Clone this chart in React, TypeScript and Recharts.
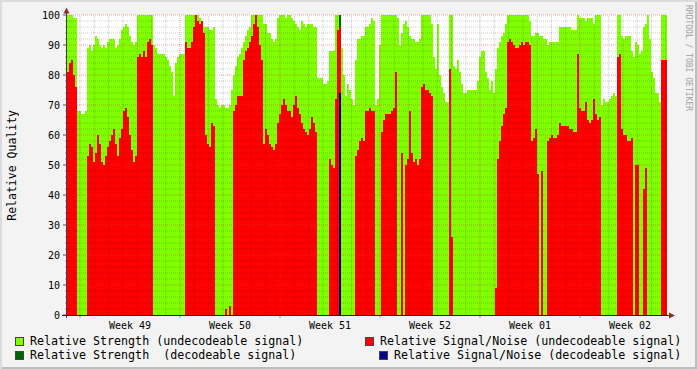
import { ComposedChart, Area, XAxis, YAxis, ReferenceLine, CartesianGrid } from 'recharts'

/* ── Data (one value per 2px RRD column, 6 weeks) ───────────────────── */

const SPAN_DAYS = 42
const FIRST_WEEK_START = 0.91 // days from left edge to the first week boundary
const WEEK_LABELS = ['Week 49', 'Week 50', 'Week 51', 'Week 52', 'Week 01', 'Week 02']

// Relative Strength (undecodeable signal)
const STRENGTH = [
  100, 100, 100, 99, 99, 68, 68, 67, 67, 68, 89, 90, 88, 90, 93, 92, 90, 89, 90, 89,
  91, 92, 92, 92, 89, 90, 92, 95, 96, 97, 96, 93, 91, 90, 91, 100, 100, 100, 100, 100,
  100, 100, 100, 90, 89, 87, 87, 87, 87, 86, 85, 83, 81, 73, 84, 86, 87, 87, 87, 100,
  100, 100, 100, 100, 100, 100, 99, 98, 96, 96, 96, 95, 95, 96, 72, 70, 69, 70, 70, 69,
  69, 70, 75, 80, 83, 86, 87, 89, 91, 93, 95, 96, 100, 100, 100, 100, 100, 100, 97, 97,
  94, 94, 92, 91, 92, 99, 100, 100, 100, 99, 100, 100, 99, 98, 97, 96, 95, 98, 97, 96,
  97, 97, 97, 96, 96, 79, 79, 79, 77, 77, 78, 88, 88, 88, 100, 100, 100, 89, 80, 73,
  77, 75, 72, 70, 85, 92, 92, 93, 93, 96, 96, 97, 99, 98, 70, 72, 90, 100, 100, 100,
  100, 100, 100, 100, 100, 99, 90, 94, 97, 98, 96, 93, 92, 92, 91, 91, 92, 100, 100, 100,
  100, 100, 97, 86, 82, 97, 80, 76, 74, 71, 71, 100, 100, 83, 82, 85, 81, 77, 74, 74,
  75, 75, 75, 75, 75, 78, 86, 88, 88, 81, 79, 75, 78, 74, 82, 89, 91, 93, 94, 97,
  100, 100, 100, 100, 100, 100, 100, 100, 100, 100, 100, 98, 93, 93, 94, 94, 93, 93, 92, 92,
  90, 91, 91, 91, 91, 91, 96, 96, 96, 96, 96, 96, 95, 95, 95, 100, 99, 99, 99, 98,
  99, 99, 99, 97, 100, 100, 100, 70, 72, 71, 71, 72, 73, 74, 73, 100, 100, 93, 92, 93,
  93, 93, 88, 86, 91, 90, 87, 88, 96, 97, 100, 92, 81, 79, 74, 74, 71, 100, 100, 100,
]

// Relative Signal/Noise (undecodeable signal)
const SNR = [
  81, 84, 85, 80, 76, 0, 0, 0, 0, 0, 53, 57, 56, 51, 54, 60, 57, 51, 50, 53,
  56, 58, 60, 62, 57, 53, 59, 62, 68, 69, 66, 60, 55, 51, 53, 86, 87, 86, 88, 86,
  91, 92, 90, 0, 0, 0, 0, 0, 0, 0, 0, 0, 0, 0, 0, 0, 0, 0, 0, 91,
  89, 89, 91, 96, 100, 98, 97, 98, 94, 60, 57, 56, 64, 63, 0, 0, 0, 0, 0, 2,
  0, 3, 0, 68, 70, 73, 73, 73, 85, 88, 89, 91, 93, 97, 100, 96, 90, 85, 57, 62,
  60, 57, 56, 55, 57, 64, 67, 70, 72, 70, 68, 68, 66, 70, 73, 69, 67, 64, 62, 61,
  60, 62, 66, 64, 61, 0, 0, 0, 0, 0, 0, 52, 50, 49, 72, 95, 96, 0, 0, 0,
  0, 0, 0, 0, 53, 55, 58, 59, 58, 68, 68, 69, 68, 68, 0, 0, 0, 61, 65, 67,
  67, 67, 68, 69, 81, 0, 0, 54, 0, 50, 52, 68, 54, 51, 52, 50, 52, 76, 77, 75,
  75, 74, 73, 0, 0, 0, 0, 0, 0, 0, 0, 82, 26, 0, 0, 0, 0, 0, 0, 0,
  0, 0, 0, 0, 0, 0, 0, 0, 0, 0, 0, 0, 0, 0, 9, 52, 58, 63, 67, 69,
  91, 92, 91, 90, 89, 89, 90, 91, 90, 91, 91, 90, 58, 59, 62, 47, 0, 48, 0, 0,
  58, 59, 60, 59, 59, 60, 64, 63, 63, 63, 63, 62, 62, 61, 61, 87, 69, 68, 68, 71,
  65, 64, 65, 72, 67, 65, 66, 0, 0, 0, 0, 0, 0, 0, 0, 86, 87, 62, 60, 60,
  58, 58, 59, 0, 50, 50, 0, 0, 42, 49, 0, 0, 0, 0, 0, 0, 0, 85, 85, 85,
]

// decodeable signal only shows up in one column
const DECODED_COLUMNS = [136]
const DECODED_STRENGTH = [100]
const DECODED_SNR = [74]

const SERIES_NAMES = [
  'Relative Strength (undecodeable signal)',
  'Relative Signal/Noise (undecodeable signal)',
  'Relative Strength  (decodeable signal)',
  'Relative Signal/Noise (decodeable signal)',
]
const SERIES_COLORS = ['#80ff00', '#ff0000', '#006400', '#00008b']

/* ── Layout ─────────────────────────────────────────────────────────── */

const W = 697
const H = 369
const FONT = '"DejaVu Sans Mono", monospace'
const LEGEND_POS = [
  { left: 15, top: 334 },
  { left: 365, top: 334 },
  { left: 15, top: 348 },
  { left: 379, top: 348 },
]

const step = SPAN_DAYS / STRENGTH.length
const rows = Array.from({ length: STRENGTH.length + 1 }, (_, i) => {
  const k = Math.min(i, STRENGTH.length - 1)
  const d = DECODED_COLUMNS.indexOf(k)
  return {
    t: i * step,
    strength: STRENGTH[k],
    snr: SNR[k],
    dStrength: d >= 0 ? DECODED_STRENGTH[d] : 0,
    dSnr: d >= 0 ? DECODED_SNR[d] : 0,
  }
})

const weekStarts = WEEK_LABELS.map((_, k) => FIRST_WEEK_START + 7 * k)
const weekCenters = weekStarts.map((s) => s + 3.5)
const dayLines: number[] = []
for (let d = FIRST_WEEK_START; d < SPAN_DAYS; d += 1) dayLines.push(d)
const yLines: number[] = []
for (let v = 2; v <= 100; v += 2) yLines.push(v)

/* ── Ticks ──────────────────────────────────────────────────────────── */

function XTick({ x, y, payload }: any) {
  const ci = weekCenters.findIndex((c) => Math.abs(c - payload.value) < 1e-6)
  if (ci < 0) return <line x1={x} x2={x} y1={y} y2={y + 3} stroke="#999" />
  return (
    <text x={x} y={y + 13.5} textAnchor="middle" fontSize={10} fontFamily={FONT} fill="#000">
      {WEEK_LABELS[ci]}
    </text>
  )
}

function YTick({ x, y, payload }: any) {
  const v = payload.value
  const major = v % 10 === 0
  return (
    <g>
      <line x1={x - (major ? 4 : 2)} x2={x} y1={y} y2={y} stroke={major ? '#555' : '#999'} />
      {major && (
        <text x={x - 7} y={y + 3.5} textAnchor="end" fontSize={10} fontFamily={FONT} fill="#000">
          {v}
        </text>
      )}
    </g>
  )
}

/* ── Component ──────────────────────────────────────────────────────── */

export default function App() {
  return (
    <div
      style={{
        position: 'absolute',
        left: 0,
        top: 0,
        width: W,
        height: H,
        background: '#f3f3f3',
        boxShadow: 'inset 2px 2px 0 #dcdcdc, inset -2px -2px 0 #bdbdbd',
        fontFamily: FONT,
      }}
    >
      <ComposedChart width={W} height={H} data={rows} margin={{ top: 15, right: 30, bottom: 34, left: 10 }}>
        <CartesianGrid horizontal={false} vertical={false} fill="#ffffff" />
        <XAxis
          type="number"
          dataKey="t"
          domain={[0, SPAN_DAYS]}
          ticks={[...weekStarts, ...weekCenters].sort((a, b) => a - b)}
          interval={0}
          height={20}
          axisLine={false}
          tickLine={false}
          tickSize={0}
          tickMargin={0}
          tick={(p: any) => <XTick {...p} />}
        />
        <YAxis
          type="number"
          domain={[0, 100]}
          ticks={[0, ...yLines]}
          interval={0}
          width={57}
          axisLine={false}
          tickLine={false}
          tickSize={0}
          tickMargin={0}
          tick={(p: any) => <YTick {...p} />}
        />
        <Area type="stepAfter" dataKey="strength" fill={SERIES_COLORS[0]} fillOpacity={1} stroke="none" isAnimationActive={false} />
        <Area type="stepAfter" dataKey="dStrength" fill={SERIES_COLORS[2]} fillOpacity={1} stroke="none" isAnimationActive={false} />
        <Area type="stepAfter" dataKey="snr" fill={SERIES_COLORS[1]} fillOpacity={1} stroke="none" isAnimationActive={false} />
        <Area type="stepAfter" dataKey="dSnr" fill={SERIES_COLORS[3]} fillOpacity={1} stroke="none" isAnimationActive={false} />
        {yLines.map((v) => (
          <ReferenceLine
            key={'h' + v}
            y={v}
            zIndex={450}
            stroke={v % 10 === 0 ? '#e03030' : '#000000'}
            strokeOpacity={v % 10 === 0 ? 0.45 : 0.2}
            strokeDasharray="1 1"
          />
        ))}
        {dayLines.map((d, k) => (
          <ReferenceLine
            key={'v' + k}
            x={d}
            zIndex={450}
            stroke={k % 7 === 0 ? '#e03030' : '#000000'}
            strokeOpacity={k % 7 === 0 ? 0.45 : 0.2}
            strokeDasharray="1 1"
          />
        ))}
      </ComposedChart>

      {/* axis lines with rrdtool-style arrows */}
      <svg width={W} height={H} style={{ position: 'absolute', left: 0, top: 0, pointerEvents: 'none' }}>
        <line x1={66.5} x2={66.5} y1={12} y2={318} stroke="#404050" />
        <line x1={62} x2={670} y1={315.5} y2={315.5} stroke="#202060" />
        <polygon points="63.5,13.5 69.5,13.5 66.5,7.5" fill="#8a2d2d" />
        <polygon points="669,312.5 669,318.5 675,315.5" fill="#8a2d2d" />
      </svg>

      <div
        style={{
          position: 'absolute',
          left: 6,
          top: 110,
          writingMode: 'vertical-rl',
          transform: 'rotate(180deg)',
          fontSize: 11.5,
          lineHeight: '13px',
          color: '#000',
          whiteSpace: 'pre',
        }}
      >
        Relative Quality
      </div>

      <div
        style={{
          position: 'absolute',
          left: 684,
          top: 5,
          writingMode: 'vertical-rl',
          fontSize: 8,
          lineHeight: '9px',
          color: '#a0a0a0',
          whiteSpace: 'pre',
        }}
      >
        RRDTOOL / TOBI OETIKER
      </div>

      {SERIES_NAMES.map((name, i) => (
        <div
          key={name}
          style={{
            position: 'absolute',
            left: LEGEND_POS[i].left,
            top: LEGEND_POS[i].top,
            height: 14,
            display: 'flex',
            alignItems: 'center',
            fontSize: 11.65,
            lineHeight: '14px',
            whiteSpace: 'pre',
            color: '#000',
          }}
        >
          <span
            style={{
              display: 'inline-block',
              width: 7,
              height: 7,
              background: SERIES_COLORS[i],
              border: '1px solid #444',
              marginRight: 6,
            }}
          />
          {name}
        </div>
      ))}
    </div>
  )
}
